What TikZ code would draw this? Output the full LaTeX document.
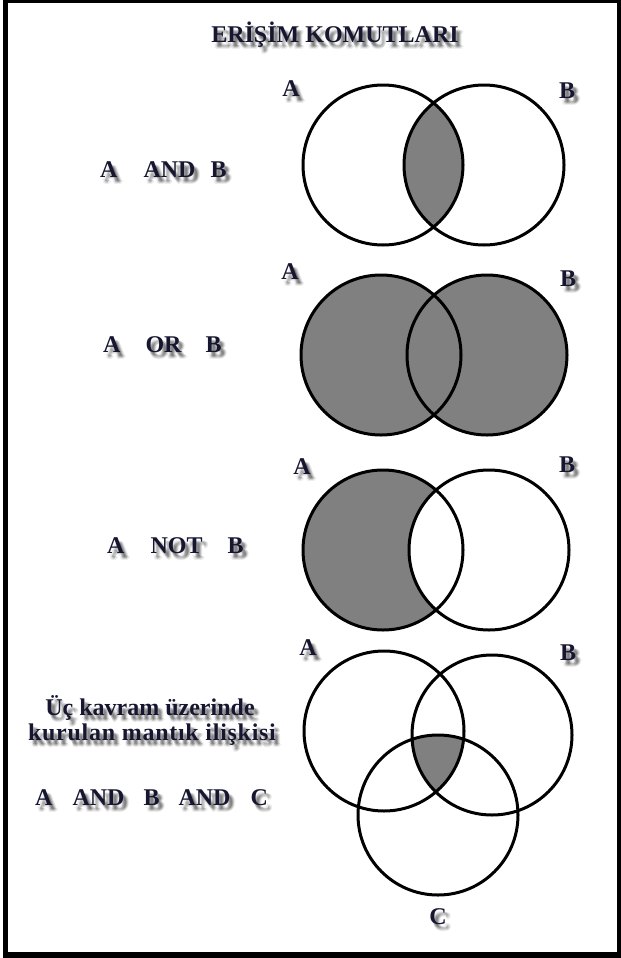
\documentclass[tikz,border=0pt]{standalone}
\usepackage{fontspec}
\setmainfont{Liberation Serif}
\definecolor{textcol}{RGB}{22,22,48}
\definecolor{vennfill}{RGB}{128,128,128}
\tikzset{
  lbl/.style={font=\fontsize{24bp}{27bp}\selectfont\bfseries, text=textcol, inner sep=0pt},
  shd/.style={lbl, text=black, text opacity=0.07},
  ring/.style={draw=black, line width=3bp},
  venn/.style={fill=vennfill}
}
% name, anchor, x, y, text
\newcommand\shadowlabel[5]{%
  \foreach \dx/\dy [count=\k] in {2/3,3/4,4/5,5/6,3/6,5/4,4/7,6/5,4/4,3/5} {
    \node[shd, anchor=#2] (#1-s\k) at ({#3+\dx},{#4+\dy}) {#5};}
  \node[lbl, anchor=#2] (#1) at (#3,#4) {#5};}
\begin{document}
\begin{tikzpicture}[x=1bp,y=-1bp]
\useasboundingbox (0,0) rectangle (621,958);
\fill[white] (0,0) rectangle (621,958);
% frame
\fill[black] (3,0) rectangle (621,958);
\fill[white] (8,3) rectangle (617,952);

% title
\shadowlabel{title}{base}{335}{42}{ERİŞİM KOMUTLARI}

% ---------- A AND B ----------
\begin{scope}
  \clip (383,165) circle (80bp);
  \fill[venn] (484,165) circle (80bp);
\end{scope}
\draw[ring] (383,165) circle (80bp) (484,165) circle (80bp);
\shadowlabel{andA}{center}{291}{89}{A}
\shadowlabel{andB}{center}{567}{91}{B}
\shadowlabel{andtxt}{base west}{100}{177}{A\hspace{26bp}AND\hspace{15bp}B}

% ---------- A OR B ----------
\fill[venn] (381,355) circle (80bp) (487,355) circle (80bp);
\draw[ring] (381,355) circle (80bp) (487,355) circle (80bp);
\shadowlabel{orA}{center}{290}{272}{A}
\shadowlabel{orB}{center}{568}{279}{B}
\shadowlabel{ortxt}{base west}{103}{352}{A\hspace{25bp}OR\hspace{24bp}B}

% ---------- A NOT B ----------
\fill[venn] (383,550) circle (80bp);
\begin{scope}
  \clip (383,550) circle (80bp);
  \fill[white] (489,550) circle (80bp);
\end{scope}
\draw[ring] (383,550) circle (80bp) (489,550) circle (80bp);
\shadowlabel{notA}{center}{302}{467}{A}
\shadowlabel{notB}{center}{567}{465}{B}
\shadowlabel{nottxt}{base west}{107}{553}{A\hspace{26bp}NOT\hspace{25bp}B}

% ---------- A AND B AND C ----------
\begin{scope}
  \clip (384,731) circle (80bp);
  \clip (492,735) circle (80bp);
  \fill[venn] (438,815) circle (80bp);
\end{scope}
\draw[ring] (384,731) circle (80bp) (492,735) circle (80bp) (438,815) circle (80bp);
\shadowlabel{triA}{center}{308}{648}{A}
\shadowlabel{triB}{center}{568}{653}{B}
\shadowlabel{triC}{center}{438}{917}{C}
\shadowlabel{line1}{base}{150}{715}{Üç kavram üzerinde}
\shadowlabel{line2}{base}{152}{740}{\addfontfeature{LetterSpace=3}kurulan mantık ilişkisi}
\shadowlabel{tritxt}{base west}{35}{805}{A\hspace{20bp}AND\hspace{19bp}B\hspace{19bp}AND\hspace{20bp}C}
\end{tikzpicture}
\end{document}
